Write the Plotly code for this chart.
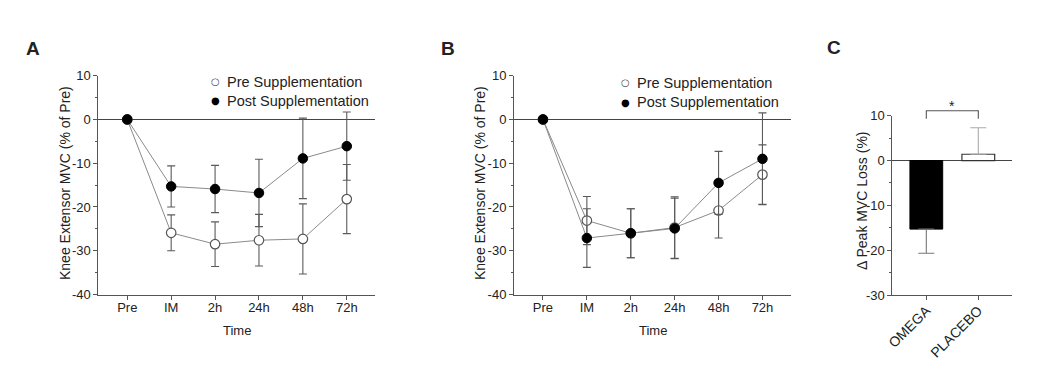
import plotly.graph_objects as go

# ---------------- data ----------------
time_labels = ["Pre", "IM", "2h", "24h", "48h", "72h"]

a_pre_mean = [0, -25.9, -28.5, -27.6, -27.3, -18.2]
a_pre_err = [0, 4.1, 5.1, 5.9, 8.0, 7.9]
a_post_mean = [0, -15.3, -15.9, -16.8, -8.9, -6.1]
a_post_err = [0, 4.7, 5.4, 7.7, 9.2, 7.8]

b_pre_mean = [0, -23.1, -26.0, -24.7, -20.8, -12.6]
b_pre_err = [0, 5.5, 5.6, 7.0, 6.3, 6.8]
b_post_mean = [0, -27.1, -26.0, -24.9, -14.5, -9.0]
b_post_err = [0, 6.7, 5.6, 6.9, 7.2, 10.5]

c_groups = ["OMEGA", "PLACEBO"]
c_mean = [-15.3, 1.4]
c_err = [5.4, 5.9]

ab_ticks = [10, 0, -10, -20, -30, -40]
c_ticks = [10, 0, -10, -20, -30]

series_names = ["Pre Supplementation", "Post Supplementation"]

# ---------------- styling ----------------
# page body keeps its default 8px margin, so the figure is sized to fit inside it
PAGE_W, PAGE_H = 1056, 370
OFF = 8
W, H = PAGE_W - 2 * OFF, PAGE_H - 2 * OFF
FONT = "Liberation Sans, Arial, sans-serif"
TXT = "#222222"
AX = "#555555"
LINE = "#8a8a8a"
ERR = "#5a5a5a"


def px_x(p):
    return (p - OFF) / W


def px_y(p):
    return 1 - (p - OFF) / H


fig = go.Figure()


def add_panel(xa, ya, pre_m, pre_e, post_m, post_e):
    # connecting lines
    for m in (pre_m, post_m):
        fig.add_trace(go.Scatter(
            x=time_labels, y=m, mode="lines", xaxis=xa, yaxis=ya,
            line=dict(color=LINE, width=1), showlegend=False, hoverinfo="skip"))
    # pre (open)
    fig.add_trace(go.Scatter(
        x=time_labels, y=pre_m, mode="markers", xaxis=xa, yaxis=ya,
        name=series_names[0], showlegend=False,
        error_y=dict(type="data", array=pre_e, color=ERR, thickness=1.1, width=4),
        marker=dict(symbol="circle", size=9.5, color="white",
                    line=dict(color="#555555", width=1.2))))
    # post (filled)
    fig.add_trace(go.Scatter(
        x=time_labels, y=post_m, mode="markers", xaxis=xa, yaxis=ya,
        name=series_names[1], showlegend=False,
        error_y=dict(type="data", array=post_e, color=ERR, thickness=1.1, width=4),
        marker=dict(symbol="circle", size=9.5, color="black",
                    line=dict(color="black", width=1))))


add_panel("x", "y", a_pre_mean, a_pre_err, a_post_mean, a_post_err)
add_panel("x2", "y2", b_pre_mean, b_pre_err, b_post_mean, b_post_err)

# ---------------- panel C bars ----------------
fig.add_trace(go.Bar(
    x=[c_groups[0]], y=[c_mean[0]], xaxis="x3", yaxis="y3", width=0.63,
    marker=dict(color="black", line=dict(color="black", width=1)),
    error_y=dict(type="data", symmetric=False, array=[0], arrayminus=[c_err[0]],
                 color="#777777", thickness=1.1, width=8),
    showlegend=False))
fig.add_trace(go.Bar(
    x=[c_groups[1]], y=[c_mean[1]], xaxis="x3", yaxis="y3", width=0.63,
    marker=dict(color="white", line=dict(color="#333333", width=1.2)),
    error_y=dict(type="data", symmetric=False, array=[c_err[1]], arrayminus=[0],
                 color="#aaaaaa", thickness=1.1, width=8),
    showlegend=False))

# ---------------- axes ----------------
common_x = dict(type="category", showline=True, linecolor=AX, linewidth=1,
                ticks="outside", ticklen=4, tickcolor=AX, showgrid=False,
                zeroline=False, automargin=False, ticklabelstandoff=-3,
                tickfont=dict(family=FONT, size=13, color=TXT))
common_y = dict(showline=True, linecolor=AX, linewidth=1, ticks="outside",
                ticklen=4, tickcolor=AX, showgrid=False, zeroline=True,
                zerolinecolor="#444444", zerolinewidth=1.4, automargin=False,
                tickfont=dict(family=FONT, size=13, color=TXT),
                minor=dict(ticks="outside", ticklen=2, tickcolor=AX, dtick=5))

ab_ydom = [px_y(294.5), px_y(75.7)]
c_ydom = [px_y(295), px_y(115.7)]
c_range = [-30, 10]
fig.update_layout(
    xaxis=dict(common_x, domain=[px_x(98.3), px_x(375.3)], range=[-0.66, 5.65],
               anchor="y"),
    yaxis=dict(common_y, domain=ab_ydom, range=[-40, 10], anchor="x",
               tickvals=ab_ticks, ticktext=[str(v) for v in ab_ticks]),
    xaxis2=dict(common_x, domain=[px_x(514), px_x(791)], range=[-0.66, 5.65],
                anchor="y2"),
    yaxis2=dict(common_y, domain=ab_ydom, range=[-40, 10], anchor="x2",
                tickvals=ab_ticks, ticktext=[str(v) for v in ab_ticks]),
    xaxis3=dict(common_x, domain=[px_x(892.3), px_x(1011.7)], range=[-0.654, 1.642],
                anchor="y3", tickangle=-45,
                tickfont=dict(family=FONT, size=14, color=TXT)),
    yaxis3=dict(common_y, domain=c_ydom, range=c_range,
                anchor="x3", tickvals=c_ticks, ticktext=[str(v) for v in c_ticks]),
    barmode="overlay",
    width=W, height=H, autosize=False,
    margin=dict(l=0, r=0, t=0, b=0, pad=0),
    paper_bgcolor="white", plot_bgcolor="white",
    font=dict(family=FONT, color=TXT),
    showlegend=False,
)


def c_paper(v):
    # map a panel-C data value to paper y using the axis scale
    return c_ydom[0] + (v - c_range[0]) / (c_range[1] - c_range[0]) * (c_ydom[1] - c_ydom[0])


# significance bracket derived from data (drawn above the axis range)
tops = [m + e if m > 0 else m for m, e in zip(c_mean, c_err)]
leg_bottom = max(tops) + 2.0
bracket_top = leg_bottom + 1.8
bracket = dict(type="path", xref="x3", yref="paper",
               path="M 0,{a} L 0,{b} L 1,{b} L 1,{a}".format(a=c_paper(leg_bottom), b=c_paper(bracket_top)),
               line=dict(color="#555555", width=1.1))
fig.add_shape(bracket)

ann = []


def text(x, y, s, size=13, xanchor="center", yanchor="middle", angle=0, bold=False):
    ann.append(dict(
        x=px_x(x), y=px_y(y), xref="paper", yref="paper", text=("<b>%s</b>" % s) if bold else s,
        showarrow=False, xanchor=xanchor, yanchor=yanchor, textangle=angle,
        font=dict(family=FONT, size=size, color=TXT)))


# panel letters
text(24, 49, "A", size=19, xanchor="left", bold=True)
text(439, 49, "B", size=19, xanchor="left", bold=True)
text(825, 47, "C", size=19, xanchor="left", bold=True)

# y titles
text(65, 183, "Knee Extensor MVC (% of Pre)", size=14, angle=-90)
text(480, 183, "Knee Extensor MVC (% of Pre)", size=14, angle=-90)
text(862, 201, "\u0394 Peak MVC Loss (%)", size=14, angle=-90)

# x titles
text(236.8, 330, "Time", size=13)
text(652.5, 330, "Time", size=13)

# legends
for gx, tx, y0 in [(215.7, 224.5, 81.5), (625.7, 634.5, 82.5)]:
    ann.append(dict(x=px_x(gx), y=px_y(y0), xref="paper", yref="paper", text="\u25cb",
                    showarrow=False, xanchor="center", yanchor="middle",
                    font=dict(family="DejaVu Sans", size=10, color="#444444")))
    ann.append(dict(x=px_x(gx), y=px_y(y0 + 19.5), xref="paper", yref="paper", text="\u25cf",
                    showarrow=False, xanchor="center", yanchor="middle",
                    font=dict(family="DejaVu Sans", size=10, color="black")))
    text(tx, y0, series_names[0], size=14.5, xanchor="left")
    text(tx, y0 + 19.5, series_names[1], size=14.5, xanchor="left")

# significance star
ann.append(dict(x=0.5, xref="x3", y=c_paper(bracket_top), yref="paper", text="*",
                showarrow=False, xanchor="center", yanchor="bottom", yshift=-5,
                font=dict(family=FONT, size=14, color=TXT)))

fig.update_layout(annotations=ann)
fig.write_html("out.html")
